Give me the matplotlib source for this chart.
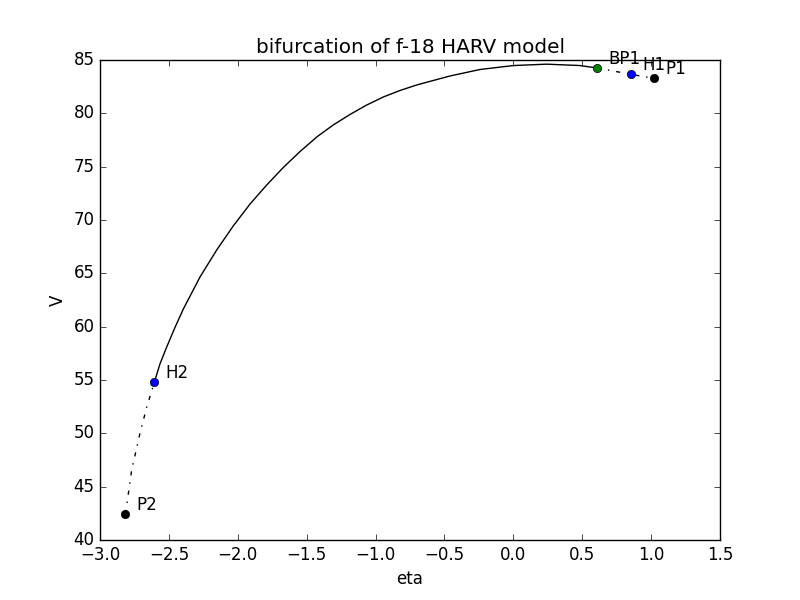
import matplotlib
matplotlib.use("Agg")
import matplotlib.pyplot as plt

plt.style.use("classic")

# lower unstable branch P2 -> H2
low_eta = [-2.815, -2.770, -2.710, -2.660, -2.606]
low_V = [42.44, 46.56, 50.0, 52.5, 54.77]

# stable branch H2 -> BP1
mid_eta = [-2.606, -2.565, -2.516, -2.456, -2.395, -2.274, -2.153, -2.033,
           -1.911, -1.790, -1.670, -1.548, -1.427, -1.307, -1.186, -1.064,
           -0.944, -0.823, -0.701, -0.581, -0.460, -0.242, 0.0, 0.242, 0.484,
           0.607]
mid_V = [54.77, 56.50, 58.09, 59.92, 61.66, 64.66, 67.19, 69.44,
         71.50, 73.28, 74.92, 76.42, 77.78, 78.91, 79.89, 80.78,
         81.53, 82.14, 82.66, 83.08, 83.50, 84.11, 84.48, 84.61, 84.48,
         84.25]

# upper unstable branch BP1 -> H1 -> P1
up_eta = [0.607, 0.854, 1.021]
up_V = [84.25, 83.66, 83.27]

# special points
pt_labels = ["P2", "H2", "BP1", "H1", "P1"]
pt_eta = [-2.815, -2.606, 0.607, 0.854, 1.021]
pt_V = [42.44, 54.77, 84.25, 83.66, 83.27]
pt_colors = ["k", "b", "g", "b", "k"]

fig = plt.figure(figsize=(8, 6), dpi=100)
ax = fig.add_subplot(111)

ax.plot(low_eta, low_V, color="k", linestyle="-.", linewidth=1)
ax.plot(mid_eta, mid_V, color="k", linestyle="-", linewidth=1)
ax.plot(up_eta, up_V, color="k", linestyle="-.", linewidth=1)

for lab, x, y, c in zip(pt_labels, pt_eta, pt_V, pt_colors):
    ax.plot([x], [y], marker="o", color=c, markersize=6, linestyle="none")
    ax.annotate(lab, (x, y), xytext=(11, 4), textcoords="offset pixels",
                ha="left", va="baseline", fontsize=12)

ax.set_xlim(-3.0, 1.5)
ax.set_ylim(40, 85)
ax.set_xlabel("eta")
ax.set_ylabel("V")
ax.set_title("bifurcation of f-18 HARV model")

fig.savefig("out.png", dpi=100)
